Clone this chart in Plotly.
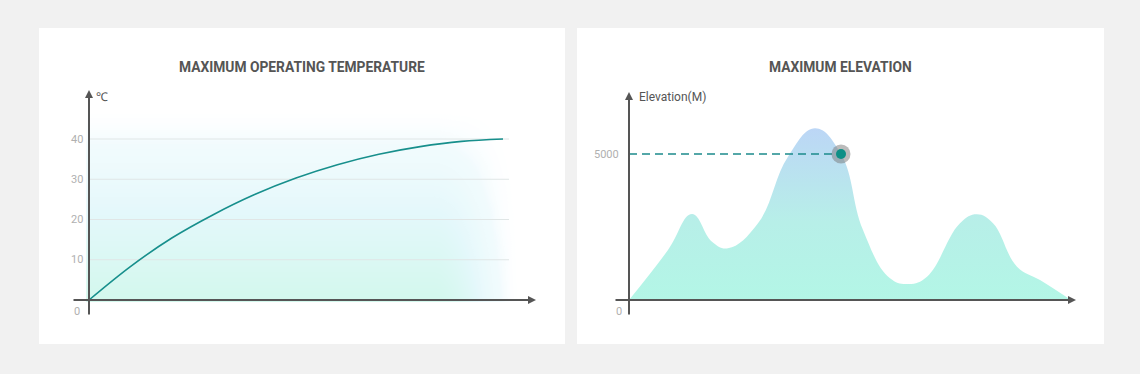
import numpy as np
import plotly.graph_objects as go

# ---------------- data ----------------
temp_x = [0, 10, 20, 30, 40, 50, 60, 70, 80, 90, 100]
temp_y = [0, 8.3, 15.4, 21.2, 26.2, 30.3, 33.6, 36.2, 38.1, 39.4, 40.0]
temp_ticks = [10, 20, 30, 40]
temp_tick_labels = ["10", "20", "30", "40"]

elev_dist = [0, 39, 63, 83, 99, 129, 159, 186, 212, 234, 261, 280, 298, 331, 348, 364, 388, 411, 442]
elev_vals = [0, 1712, 2945, 1997, 1770, 2627, 4908, 5881, 5000, 2398, 742, 548, 799, 2627, 2934,
             2627, 1142, 685, 0]
elev_ticks = [5000]
elev_tick_labels = ["5000"]
marker_dist = [212]
marker_elev = [5000]

titles = ["MAXIMUM OPERATING TEMPERATURE", "MAXIMUM ELEVATION"]
unit_labels = ["℃", "Elevation(M)"]

# ---------------- geometry helpers ----------------
W, H = 1140, 374
AXC = "#555555"
TEAL = "#178f8c"


def fx(px):
    return px / W


def fy(py):
    return 1 - py / H


# left panel pixel mapping: px = 89 + 4.14*x ; py = 300 - 4.025*t
L_X0, L_SX = 89, 4.14
L_Y0, L_SY = 300, 4.025
# right panel: px = 629 + d ; py = 300 - e*146/5000
R_X0, R_SX = 629, 1.0
R_Y0, R_SY = 300, 146 / 5000

dom_lx = (60, 556)
dom_rx = (600, 1090)
dom_y = (80, 330)


def lx(px):
    return (px - L_X0) / L_SX


def ly(py):
    return (L_Y0 - py) / L_SY


def rx(px):
    return (px - R_X0) / R_SX


def ry(py):
    return (R_Y0 - py) / R_SY


fig = go.Figure()

# decorative background gradient on left panel
gx = np.linspace(0, lx(528), 80)
gy = np.linspace(0, ly(105), 50)
GX, GY = np.meshgrid(gx, gy)
pxs = L_X0 + GX * L_SX
top = ly(105)
v = np.clip(1 - GY / top, 0, 1)
h = np.clip((528 - pxs) / 95, 0, 1)
h = h * h * (3 - 2 * h)
Z = v * h
fig.add_trace(go.Heatmap(
    x=gx, y=gy, z=Z, zsmooth="best", showscale=False, hoverinfo="skip",
    colorscale=[[0, "rgba(255,255,255,0)"], [0.2, "rgba(238,250,253,0.8)"],
                [0.55, "rgba(228,248,251,1)"], [1, "rgba(211,248,237,1)"]],
    zmin=0, zmax=1, xaxis="x", yaxis="y"))

# gridlines
for t in temp_ticks:
    fig.add_trace(go.Scatter(x=[0, lx(509)], y=[t, t], mode="lines",
                             line=dict(color="#e0e6e6", width=1), hoverinfo="skip",
                             xaxis="x", yaxis="y"))

fig.add_trace(go.Scatter(
    x=temp_x, y=temp_y, mode="lines", line=dict(color=TEAL, width=1.6, shape="spline"),
    hoverinfo="skip", xaxis="x", yaxis="y"))

# right panel area
fig.add_trace(go.Scatter(
    x=elev_dist, y=elev_vals, mode="lines", line=dict(width=0, shape="spline", smoothing=1.2),
    fill="tozeroy",
    fillgradient=dict(type="vertical", start=0, stop=5900,
                      colorscale=[[0, "#b3f6e6"], [0.45, "#b7efe8"], [1, "#bcd6f6"]]),
    hoverinfo="skip", xaxis="x2", yaxis="y2"))

fig.add_trace(go.Scatter(
    x=[0, marker_dist[0]], y=[marker_elev[0], marker_elev[0]], mode="lines",
    line=dict(color="#1d8a8c", width=1.6, dash="8px,5px"), hoverinfo="skip",
    xaxis="x2", yaxis="y2"))
fig.add_trace(go.Scatter(
    x=marker_dist, y=marker_elev, mode="markers",
    marker=dict(size=19, color="rgba(120,120,120,0.5)", line=dict(width=0)),
    hoverinfo="skip", xaxis="x2", yaxis="y2"))
fig.add_trace(go.Scatter(
    x=marker_dist, y=marker_elev, mode="markers",
    marker=dict(size=10, color="#0e8f86", line=dict(width=0)),
    hoverinfo="skip", xaxis="x2", yaxis="y2"))

shapes = [
    dict(type="rect", xref="paper", yref="paper", x0=fx(39), x1=fx(565), y0=fy(344), y1=fy(28),
         fillcolor="white", line=dict(width=0), layer="below"),
    dict(type="rect", xref="paper", yref="paper", x0=fx(577), x1=fx(1104), y0=fy(344), y1=fy(28),
         fillcolor="white", line=dict(width=0), layer="below"),
]

annotations = []
# axis arrows
annotations += [
    dict(x=lx(536), y=0, ax=lx(72), ay=0, xref="x", yref="y", axref="x", ayref="y", text="",
         showarrow=True, arrowhead=2, arrowsize=0.8, arrowwidth=2, arrowcolor=AXC, standoff=0),
    dict(x=0, y=ly(90), ax=0, ay=ly(316), xref="x", yref="y", axref="x", ayref="y", text="",
         showarrow=True, arrowhead=2, arrowsize=0.8, arrowwidth=2, arrowcolor=AXC, standoff=0),
    dict(x=rx(1076), y=0, ax=rx(614), ay=0, xref="x2", yref="y2", axref="x2", ayref="y2", text="",
         showarrow=True, arrowhead=2, arrowsize=0.8, arrowwidth=2, arrowcolor=AXC, standoff=0),
    dict(x=0, y=ry(92), ax=0, ay=ry(316), xref="x2", yref="y2", axref="x2", ayref="y2", text="",
         showarrow=True, arrowhead=2, arrowsize=0.8, arrowwidth=2, arrowcolor=AXC, standoff=0),
]
tick_font = dict(family="Roboto, sans-serif", size=11, color="#b0b0b0")
for t, lab in zip(temp_ticks, temp_tick_labels):
    annotations.append(dict(x=0, y=t, xref="x", yref="y", text=lab, showarrow=False,
                            xanchor="right", yanchor="middle", xshift=-4, font=tick_font))
annotations.append(dict(x=0, y=0, xref="x", yref="y", text="0", showarrow=False,
                        xanchor="right", yanchor="middle", xshift=-7, yshift=-11, font=tick_font))
for t, lab in zip(elev_ticks, elev_tick_labels):
    annotations.append(dict(x=0, y=t, xref="x2", yref="y2", text=lab, showarrow=False,
                            xanchor="right", yanchor="middle", xshift=-8, font=tick_font))
annotations.append(dict(x=0, y=0, xref="x2", yref="y2", text="0", showarrow=False,
                        xanchor="right", yanchor="middle", xshift=-5, yshift=-11, font=tick_font))

unit_font = dict(family="Roboto, sans-serif", size=12, color="#555555")
annotations.append(dict(x=0, y=ly(97), xref="x", yref="y", text=unit_labels[0], showarrow=False,
                        xanchor="left", yanchor="middle", xshift=5, font=unit_font))
annotations.append(dict(x=0, y=ry(97), xref="x2", yref="y2", text=unit_labels[1], showarrow=False,
                        xanchor="left", yanchor="middle", xshift=8, font=unit_font))

title_font = dict(family="Roboto, sans-serif", size=13.8, color="#555555", weight="bold")
annotations.append(dict(x=fx(302), y=fy(67), xref="paper", yref="paper", text=titles[0],
                        showarrow=False, xanchor="center", yanchor="middle", font=title_font))
annotations.append(dict(x=fx(840), y=fy(67), xref="paper", yref="paper", text=titles[1],
                        showarrow=False, xanchor="center", yanchor="middle", font=title_font))

axis_common = dict(visible=False, showgrid=False, zeroline=False, fixedrange=True)
fig.update_layout(
    width=W, height=H, margin=dict(l=0, r=0, t=0, b=0),
    paper_bgcolor="#f1f1f1", plot_bgcolor="rgba(0,0,0,0)",
    showlegend=False,
    xaxis=dict(domain=[fx(dom_lx[0]), fx(dom_lx[1])], range=[lx(dom_lx[0]), lx(dom_lx[1])], **axis_common),
    yaxis=dict(domain=[fy(dom_y[1]), fy(dom_y[0])], range=[ly(dom_y[1]), ly(dom_y[0])], **axis_common),
    xaxis2=dict(domain=[fx(dom_rx[0]), fx(dom_rx[1])], range=[rx(dom_rx[0]), rx(dom_rx[1])],
                anchor="y2", **axis_common),
    yaxis2=dict(domain=[fy(dom_y[1]), fy(dom_y[0])], range=[ry(dom_y[1]), ry(dom_y[0])],
                anchor="x2", **axis_common),
    shapes=shapes, annotations=annotations,
)

fig.write_html("out.html", config={"displayModeBar": False},
               post_script="document.body.style.margin='0';")
